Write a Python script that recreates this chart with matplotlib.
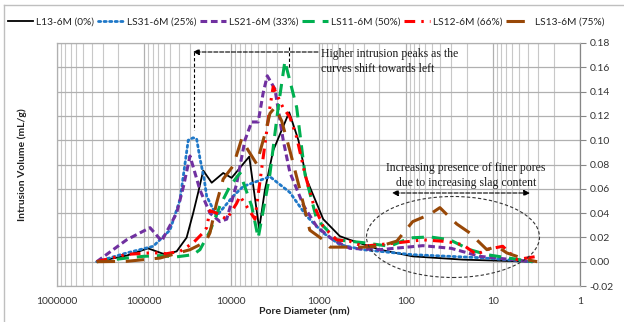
import matplotlib
matplotlib.use("Agg")
import matplotlib.pyplot as plt
from matplotlib.patches import Ellipse
from matplotlib.lines import Line2D
from matplotlib.ticker import FixedLocator, FixedFormatter, NullFormatter, LogLocator

# ---------------- data ----------------
labels = ["L13-6M (0%)", "LS31-6M (25%)", "LS21-6M (33%)",
          "LS11-6M (50%)", "LS12-6M (66%)", "LS13-6M (75%)"]

d_L13 = [350000, 159000, 90400, 57700, 42400, 32600, 27400, 24000, 21000, 16800,
         12400, 9930, 6230, 4790, 4120, 3310, 2170, 1700, 1370, 883, 569, 437, 198, 83, 22.1, 3.5]
v_L13 = [0, 0.005, 0.011, 0.006, 0.0085, 0.0198, 0.040, 0.057, 0.075, 0.065,
         0.073, 0.069, 0.0865, 0.027, 0.059, 0.0915, 0.123, 0.100, 0.068, 0.035, 0.021, 0.018, 0.0099, 0.0044, 0.0017, 0]

d_LS31 = [350000, 159000, 78700, 50600, 38800, 31200, 27400, 25000, 22900, 20500, 19200,
          14800, 9510, 7290, 5130, 3610, 2130, 1370, 883, 569, 310, 83, 14.1, 3.5]
v_LS31 = [0, 0.0072, 0.0127, 0.026, 0.051, 0.100, 0.102, 0.101, 0.085, 0.068, 0.054,
          0.0375, 0.054, 0.062, 0.066, 0.070, 0.057, 0.0375, 0.0237, 0.014, 0.0099, 0.0058, 0.0033, 0]

d_LS21 = [350000, 159000, 85700, 63000, 42400, 35400, 29800, 22900, 17600, 13500, 11300,
          8700, 6980, 5850, 4920, 4310, 3870, 3160, 2540, 2130, 1480, 1050, 680, 437, 198,
          63.5, 30, 14.1, 3.5]
v_LS21 = [0, 0.018, 0.028, 0.017, 0.040, 0.062, 0.087, 0.059, 0.040, 0.033, 0.035,
          0.064, 0.100, 0.115, 0.115, 0.139, 0.153, 0.142, 0.100, 0.0735, 0.046, 0.029, 0.018, 0.011, 0.0099,
          0.0132, 0.011, 0.0044, 0]

d_LS11 = [350000, 159000, 103000, 65900, 42400, 27400, 22900, 17600, 13500, 10400, 7960,
          5850, 4920, 3610, 2900, 2430, 1780, 1430, 1050, 620, 310, 152, 89, 52.7, 31.1,
          18.4, 11.7, 3.5]
v_LS11 = [0, 0.003, 0.0044, 0.005, 0.004, 0.0058, 0.0099, 0.025, 0.046, 0.062, 0.073,
          0.046, 0.0196, 0.072, 0.127, 0.165, 0.127, 0.072, 0.035, 0.018, 0.0157, 0.0127, 0.0196, 0.0204, 0.018,
          0.0099, 0.0058, 0]

d_LS12 = [350000, 159000, 78700, 55200, 38800, 27400, 21000, 19200, 17600, 14800, 11300,
          8700, 7960, 5360, 4310, 3610, 3310, 2560, 2130, 1780, 1430, 1150, 883, 620,
          437, 310, 126, 63.5, 33.7, 22.1, 15.3, 12.0, 7.7, 5.3, 3.1]
v_LS12 = [0, 0.006, 0.0074, 0.0066, 0.0085, 0.0155, 0.024, 0.028, 0.042, 0.040, 0.035,
          0.048, 0.054, 0.035, 0.086, 0.127, 0.144, 0.127, 0.119, 0.1025, 0.072, 0.048, 0.029, 0.018,
          0.0168, 0.0127, 0.0155, 0.018, 0.0166, 0.014, 0.0058, 0.0099, 0.0127, 0.0017, 0.0044]

d_LS13 = [350000, 159000, 65900, 29800, 22900, 19200, 17600, 14800, 12400, 9510, 7620,
          6390, 5130, 4120, 3610, 3160, 2650, 2130, 1630, 1260, 883, 740, 310, 198,
          126, 108, 83, 52.7, 40.5, 32.8, 25.9, 18.4, 15.3, 11.7, 9.0, 6.9, 5.3, 4.1, 3.1]
v_LS13 = [0, 0.0003, 0.003, 0.0099, 0.014, 0.018, 0.0237, 0.048, 0.068, 0.079, 0.101,
          0.0915, 0.0805, 0.105, 0.122, 0.127, 0.116, 0.0915, 0.059, 0.026, 0.018, 0.012, 0.012, 0.0127,
          0.017, 0.023, 0.033, 0.039, 0.0445, 0.038, 0.031, 0.0237, 0.018, 0.0099, 0.0127, 0.0072, 0.0044, 0.0017, 0]

x_ticks = [1000000, 100000, 10000, 1000, 100, 10, 1]
x_ticklabels = ["1000000", "100000", "10000", "1000", "100", "10", "1"]
y_ticks = [-0.02, 0.00, 0.02, 0.04, 0.06, 0.08, 0.10, 0.12, 0.14, 0.16, 0.18]

# ---------------- styling ----------------
plt.rcParams['font.family'] = ['Lato', 'DejaVu Sans']
W, H = 624, 322
fig = plt.figure(figsize=(W / 100, H / 100), dpi=100)
ax = fig.add_axes([57 / W, 1 - 286 / H, (580 - 57) / W, (286 - 43) / H])

ax.set_xscale('log')
ax.set_xlim(1e6, 1)
ax.set_ylim(-0.02, 0.18)

series = [
    (d_L13, v_L13, dict(color='black', lw=1.3, linestyle='-')),
    (d_LS31, v_LS31, dict(color='#1F78C8', lw=2.0, linestyle=(0, (0.8, 1.2)), dash_capstyle='round')),
    (d_LS21, v_LS21, dict(color='#7030A0', lw=2.2, linestyle=(0, (2.2, 1.2)))),
    (d_LS11, v_LS11, dict(color='#00B050', lw=2.2, linestyle=(0, (4, 2.6)))),
    (d_LS12, v_LS12, dict(color='#FF0000', lw=2.2, linestyle=(0, (3.5, 2, 0.8, 2, 0.8, 2)))),
    (d_LS13, v_LS13, dict(color='#984807', lw=2.2, linestyle=(0, (6, 3.5)))),
]
handles = []
for (d, v, st), lab in zip(series, labels):
    h, = ax.plot(d, v, label=lab, zorder=3, **st)
    handles.append(h)

# grid
ax.yaxis.set_major_locator(FixedLocator(y_ticks))
ax.xaxis.set_major_locator(FixedLocator(x_ticks))
ax.xaxis.set_major_formatter(FixedFormatter(x_ticklabels))
ax.xaxis.set_minor_locator(LogLocator(base=10, subs=range(2, 10), numticks=20))
ax.xaxis.set_minor_formatter(NullFormatter())
ax.grid(True, which='major', axis='both', color='#B0B0B0', lw=0.9, zorder=0)
ax.grid(True, which='minor', axis='x', color='#C8C8C8', lw=0.8, zorder=0)
ax.set_axisbelow(True)

ax.yaxis.tick_right()
ax.tick_params(axis='y', which='major', direction='out', length=4, width=0.8,
               color='#868686', labelsize=7.5, pad=3, labelcolor='#333333')
ax.yaxis.set_major_formatter(plt.FuncFormatter(lambda v, p: f"{v:.2f}"))
ax.tick_params(axis='x', which='both', length=0, labelsize=7.5, pad=8, labelcolor='#333333')

for s in ['left', 'top', 'bottom']:
    ax.spines[s].set_color('#B0B0B0')
    ax.spines[s].set_linewidth(0.9)
ax.spines['right'].set_color('#868686')
ax.spines['right'].set_linewidth(0.9)

# axis titles
fig.text(304 / W, 1 - 312 / H, "Pore Diameter (nm)", ha='center', va='center',
         fontsize=7.5, fontweight='bold', color='#222222')
fig.text(22 / W, 1 - 165 / H, "Intrusion Volume (mL/g)", ha='center', va='center',
         rotation=90, fontsize=7.5, fontweight='bold', color='#222222')

# legend
fig.legend(handles=handles, labels=labels, loc='center left', ncol=6,
           bbox_to_anchor=(8 / W, 1 - 22 / H), frameon=False, fontsize=7.3,
           handlelength=2.5, handletextpad=0.3, columnspacing=0.4, borderpad=0,
           borderaxespad=0, labelcolor='#222222')

# chart-area border (Excel frame)
fig.add_artist(Line2D([4 / W, 1], [1 - 5 / H, 1 - 5 / H], color='#BFBFBF', lw=1))
fig.add_artist(Line2D([4 / W, 4 / W], [0, 1 - 5 / H], color='#BFBFBF', lw=1))

# ---------------- annotations ----------------
def fx(px):
    return (px - 57) / (580 - 57)

def fy(py):
    return (286 - py) / (286 - 43)

tr = ax.transAxes
dash = (0, (3, 2))
# horizontal dashed arrow (pointing left)
ax.annotate("", xy=(fx(193), fy(52)), xytext=(fx(318), fy(52)), xycoords=tr, textcoords=tr,
            arrowprops=dict(arrowstyle='-|>', color='black', lw=0.8, linestyle='--',
                            mutation_scale=9, shrinkA=0, shrinkB=0))
ax.plot([fx(194), fx(194)], [fy(52), fy(130)], transform=tr, color='black', lw=0.8,
        linestyle=dash, zorder=4)
ax.plot([fx(289), fx(289)], [fy(47), fy(67)], transform=tr, color='black', lw=0.8,
        linestyle=dash, zorder=4)
ax.text(fx(321), fy(61.5), "Higher intrusion peaks as the\ncurves shift towards left",
        transform=tr, ha='left', va='center', fontsize=8.5, family='Liberation Serif',
        color='#1a1a1a', linespacing=1.25, zorder=5)

# finer pores annotation
ax.text(fx(466), fy(175.5), "Increasing presence of finer pores\ndue to increasing slag content",
        transform=tr, ha='center', va='center', fontsize=8.5, family='Liberation Serif',
        color='#1a1a1a', linespacing=1.25, zorder=5)
ax.annotate("", xy=(fx(392), fy(193)), xytext=(fx(530), fy(193)), xycoords=tr, textcoords=tr,
            arrowprops=dict(arrowstyle='<|-|>', color='black', lw=0.8, linestyle='--',
                            mutation_scale=9, shrinkA=0, shrinkB=0))
ell = Ellipse((fx(453), fy(237)), 173 / 523, 81 / 243, transform=tr, fill=False,
              edgecolor='#333333', lw=0.8, linestyle=(0, (3, 2)), zorder=4)
ax.add_patch(ell)

fig.savefig("out.png", dpi=100)
